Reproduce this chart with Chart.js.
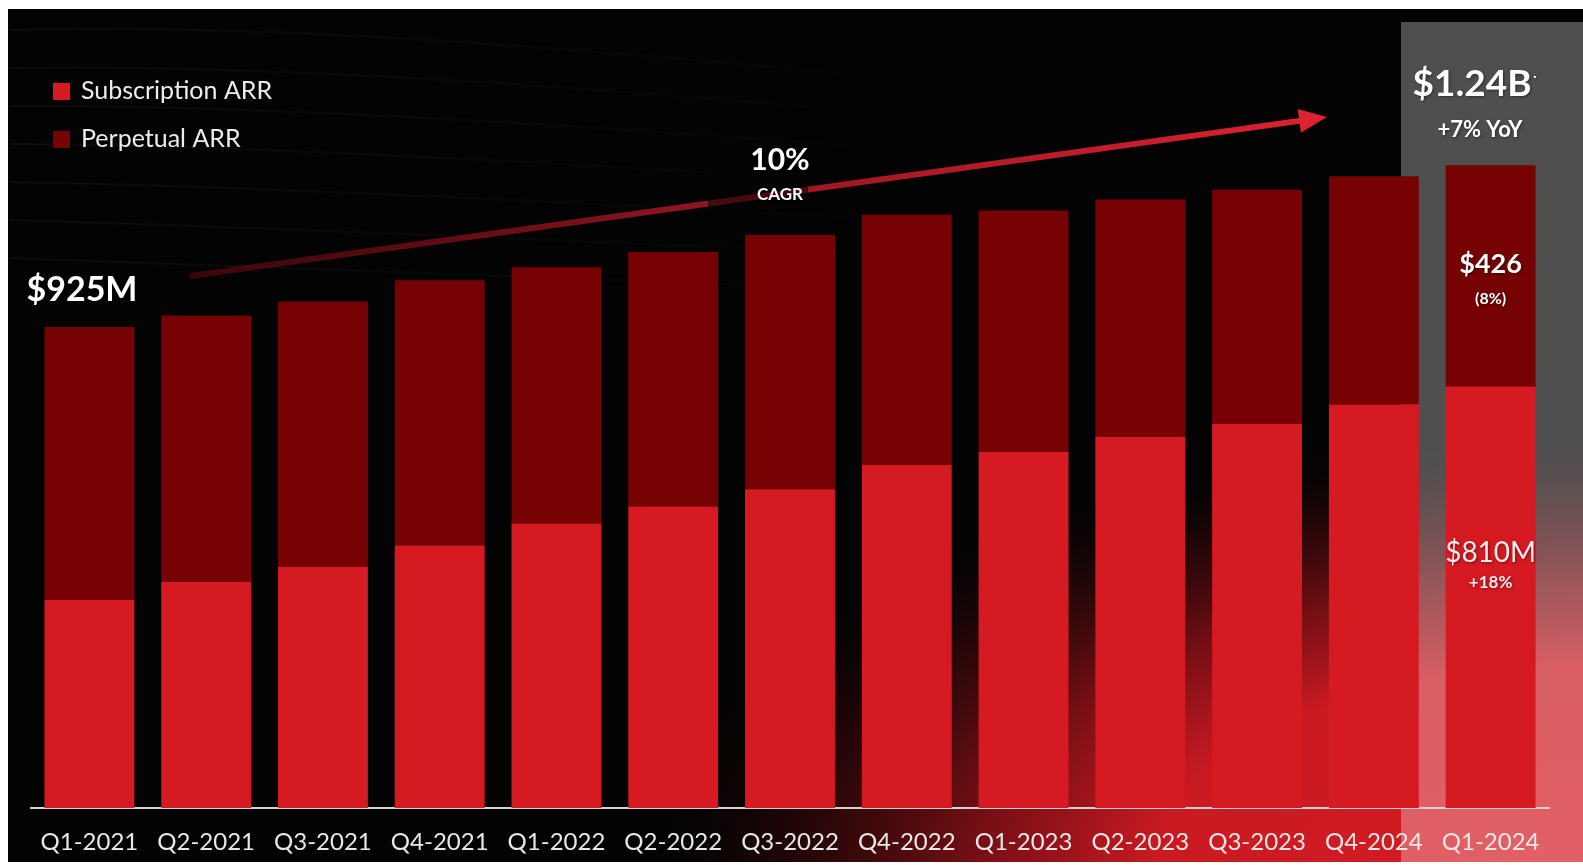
<!DOCTYPE html>
<html>
<head>
<meta charset="utf-8">
<script src="https://cdn.jsdelivr.net/npm/chart.js@4"></script>
<style>
  html, body { margin: 0; padding: 0; background: #fff; overflow: hidden; }
  #wrap { width: 1583px; height: 865px; }
</style>
</head>
<body>
<div id="wrap"><canvas id="grafico" width="1583" height="865"></canvas></div>
<script>
// Trimestres del eje X
const trimestres = ['Q1-2021', 'Q2-2021', 'Q3-2021', 'Q4-2021', 'Q1-2022', 'Q2-2022', 'Q3-2022',
  'Q4-2022', 'Q1-2023', 'Q2-2023', 'Q3-2023', 'Q4-2024', 'Q1-2024'];

// ARR en millones de dolares
const arrSuscripcion = [400, 435, 464, 505, 547, 580, 613, 660, 685, 714, 739, 776, 810];
const arrPerpetua = [525, 512, 510, 510, 493, 489, 489, 481, 464, 456, 450, 439, 426];

const nombresSeries = ['Subscription ARR', 'Perpetual ARR'];
const coloresSeries = ['#d61a22', '#760203'];

// Textos que van sobre el grafico
const textoInicio = '$925M';
const textoCagr = ['10%', 'CAGR'];
const textoTotal = ['$1.24B', '+7% YoY'];
const textoPerpetua = ['$426', '(8%)'];
const textoSuscripcion = ['$810M', '+18%'];

const fuente = 'Lato, "Open Sans", sans-serif';

// Fondo: marco blanco, negro, brillo rojo abajo a la derecha y el recuadro gris
const fondo = {
  id: 'fondo',
  beforeDraw(chart) {
    const ctx = chart.ctx;
    const W = chart.width, H = chart.height;
    ctx.save();
    ctx.fillStyle = '#ffffff';
    ctx.fillRect(0, 0, W, H);
    ctx.fillStyle = '#030303';
    ctx.fillRect(8, 9, W - 8, 853);

    ctx.beginPath();
    ctx.rect(8, 9, W - 8, 853);
    ctx.clip();

    // lineas muy tenues que se desvanecen hacia la derecha
    const gt = ctx.createLinearGradient(10, 0, 1000, 0);
    gt.addColorStop(0, 'rgba(255,255,255,0.04)');
    gt.addColorStop(1, 'rgba(255,255,255,0)');
    ctx.strokeStyle = gt;
    ctx.lineWidth = 2;
    for (let i = 0; i < 7; i++) {
      ctx.beginPath();
      ctx.moveTo(10, 30 + i * 38);
      ctx.quadraticCurveTo(350, 20 + i * 42, 1000, 90 + i * 34);
      ctx.stroke();
    }

    // brillo rojo
    ctx.save();
    ctx.translate(W, H);
    ctx.scale(950 / 440, 1);
    const g = ctx.createRadialGradient(0, 0, 0, 0, 0, 440);
    g.addColorStop(0, 'rgba(214,28,36,1)');
    g.addColorStop(0.45, 'rgba(212,27,35,0.95)');
    g.addColorStop(0.65, 'rgba(185,22,30,0.6)');
    g.addColorStop(0.85, 'rgba(120,12,18,0.22)');
    g.addColorStop(1, 'rgba(0,0,0,0)');
    ctx.fillStyle = g;
    ctx.fillRect(-W, -H, W, H);
    ctx.restore();

    // recuadro gris del ultimo trimestre
    ctx.fillStyle = 'rgba(255,255,255,0.3)';
    ctx.fillRect(1401, 22, W - 1401, 840);

    // flecha de crecimiento
    const x0 = 190, y0 = 276, x1 = 1327, y1 = 117;
    const ang = Math.atan2(y1 - y0, x1 - x0);
    const gl = ctx.createLinearGradient(x0, y0, x1, y1);
    gl.addColorStop(0, 'rgba(100,10,18,0.55)');
    gl.addColorStop(0.45, '#921521');
    gl.addColorStop(1, '#dc2230');
    ctx.strokeStyle = gl;
    ctx.lineWidth = 6;
    ctx.beginPath();
    ctx.moveTo(x0, y0);
    ctx.lineTo(x1 - 26 * Math.cos(ang), y1 - 26 * Math.sin(ang));
    ctx.stroke();
    ctx.fillStyle = '#dc2230';
    ctx.beginPath();
    ctx.moveTo(x1, y1);
    const bx = x1 - 28 * Math.cos(ang), by = y1 - 28 * Math.sin(ang);
    ctx.lineTo(bx + 12 * Math.sin(ang), by - 12 * Math.cos(ang));
    ctx.lineTo(bx - 12 * Math.sin(ang), by + 12 * Math.cos(ang));
    ctx.closePath();
    ctx.fill();

    // tramo oscurecido detras de la etiqueta CAGR
    ctx.fillStyle = 'rgba(3,3,3,0.55)';
    ctx.fillRect(708, 172, 100, 40);
    ctx.restore();
  },
  afterDatasetsDraw(chart) {
    const ctx = chart.ctx;
    const sub = chart.getDatasetMeta(0).data;
    const per = chart.getDatasetMeta(1).data;
    const n = sub.length - 1;
    ctx.save();
    ctx.fillStyle = '#ffffff';
    ctx.textAlign = 'center';
    ctx.textBaseline = 'middle';
    ctx.shadowColor = 'rgba(0,0,0,0.45)';
    ctx.shadowBlur = 3;
    ctx.shadowOffsetX = 1;
    ctx.shadowOffsetY = 1;

    // total del primer trimestre
    ctx.font = 'bold 34px ' + fuente;
    ctx.fillText(textoInicio, 82, per[0].y - 37);

    // CAGR
    ctx.font = 'bold 30px ' + fuente;
    ctx.fillText(textoCagr[0], 780, 160);
    ctx.font = 'bold 17px ' + fuente;
    ctx.fillText(textoCagr[1], 780, 195);

    // total del ultimo trimestre
    ctx.font = 'bold 37px ' + fuente;
    ctx.fillText(textoTotal[0], 1472, 84);
    ctx.font = 'bold 12px ' + fuente;
    ctx.fillText('·', 1535, 76);
    ctx.font = 'bold 22px ' + fuente;
    ctx.fillText(textoTotal[1], 1480, 130);

    // segmentos de la ultima barra
    const xb = per[n].x;
    ctx.font = 'bold 27px ' + fuente;
    ctx.fillText(textoPerpetua[0], xb, per[n].y + 99);
    ctx.font = 'bold 16px ' + fuente;
    ctx.fillText(textoPerpetua[1], xb, per[n].y + 134);
    ctx.fillStyle = '#fbeaea';
    ctx.font = '28px ' + fuente;
    ctx.fillText(textoSuscripcion[0], xb, sub[n].y + 166);
    ctx.font = 'bold 17px ' + fuente;
    ctx.fillText(textoSuscripcion[1], xb, sub[n].y + 196);
    ctx.restore();
  },
  afterDraw(chart) {
    // leyenda dibujada a mano arriba a la izquierda
    const ctx = chart.ctx;
    ctx.save();
    ctx.font = '25px ' + fuente;
    ctx.textBaseline = 'middle';
    chart.data.datasets.forEach((ds, i) => {
      const y = 91 + i * 48;
      ctx.fillStyle = ds.backgroundColor;
      ctx.fillRect(53, y - 8, 17, 17);
      ctx.fillStyle = '#ececec';
      ctx.fillText(ds.label, 81, y);
    });
    ctx.restore();
  }
};

const ctx = document.getElementById('grafico').getContext('2d');
const grafico = new Chart(ctx, {
  type: 'bar',
  data: {
    labels: trimestres,
    datasets: [{
      label: nombresSeries[0],
      data: arrSuscripcion,
      backgroundColor: coloresSeries[0],
      borderWidth: 0
    }, {
      label: nombresSeries[1],
      data: arrPerpetua,
      backgroundColor: coloresSeries[1],
      borderWidth: 0
    }]
  },
  options: {
    responsive: false,
    animation: false,
    layout: { padding: { top: 80, left: 31, right: 34, bottom: 0 } },
    datasets: {
      bar: { categoryPercentage: 1, barPercentage: 0.77 }
    },
    scales: {
      x: {
        stacked: true,
        grid: { display: false, drawTicks: false },
        border: { display: true, color: '#d2d2d2', width: 2 },
        ticks: {
          color: '#e8e8e8',
          padding: 20,
          maxRotation: 0,
          autoSkip: false,
          font: { family: fuente, size: 24 }
        },
        afterFit(scale) { scale.height = 57; }
      },
      y: {
        stacked: true,
        display: false,
        min: 0,
        max: 1400
      }
    },
    plugins: {
      legend: { display: false },
      tooltip: { enabled: false }
    }
  },
  plugins: [fondo]
});
</script>
</body>
</html>
